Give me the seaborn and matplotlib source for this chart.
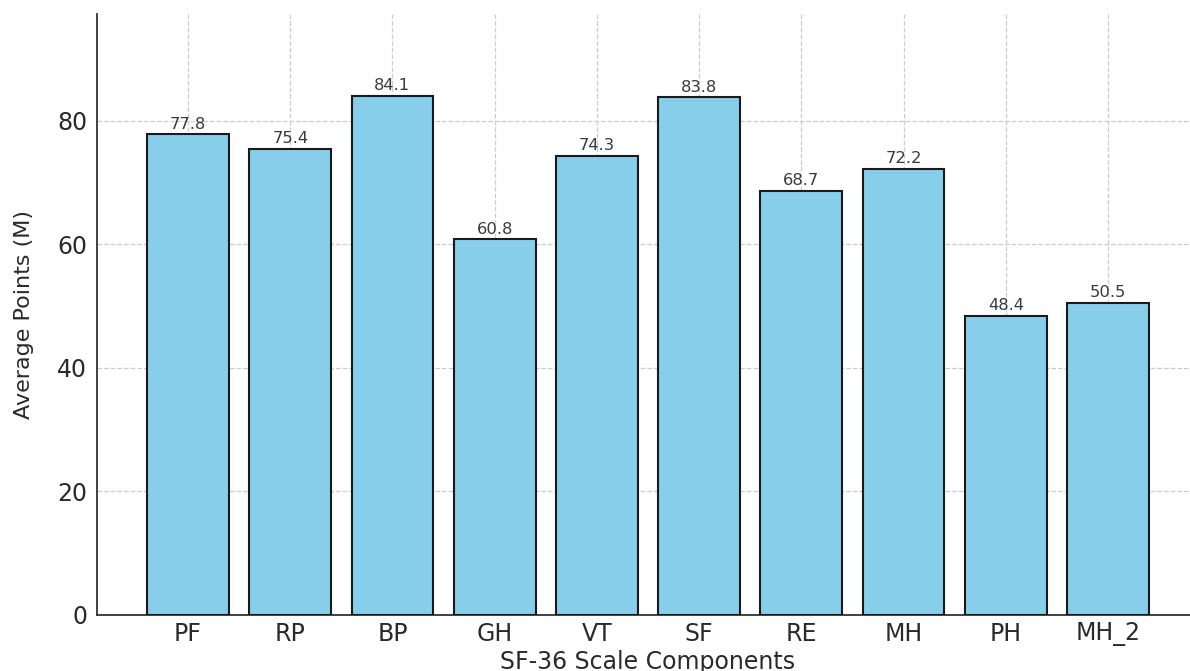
import matplotlib
matplotlib.use("Agg")
import matplotlib.pyplot as plt
import seaborn as sns
import pandas as pd

# SF-36 scale components and their average scores
components = ["PF", "RP", "BP", "GH", "VT", "SF", "RE", "MH", "PH", "MH_2"]
avg_points = [77.8, 75.4, 84.1, 60.8, 74.3, 83.8, 68.7, 72.2, 48.4, 50.5]

df = pd.DataFrame({"component": components, "points": avg_points})

sns.set_style("white")
plt.rcParams["font.family"] = ["DejaVu Sans"]

fig = plt.figure(figsize=(11.9, 6.71), dpi=100)
ax = fig.add_axes([97 / 1190, 1 - 615 / 671, (1199 - 97) / 1190, (615 - 14) / 671])

sns.barplot(data=df, x="component", y="points", color="#87CEEB",
            edgecolor="#1a1a1a", linewidth=1.5, width=0.8, saturation=1,
            ax=ax, zorder=3)

for container in ax.containers:
    ax.bar_label(container, fmt="%.1f", padding=2, fontsize=11.8, color="#3a3a3a")

ax.set_xlim(-0.89, 9.89)
ax.set_ylim(0, 97.3)
ax.set_yticks([0, 20, 40, 60, 80])

ax.grid(True, linestyle="--", color="#cccccc", linewidth=0.9, zorder=0)
ax.set_axisbelow(True)

for side in ("top", "right"):
    ax.spines[side].set_visible(False)
for side in ("left", "bottom"):
    ax.spines[side].set_color("#333333")
    ax.spines[side].set_linewidth(1.3)

ax.tick_params(axis="both", direction="in", length=5, width=1.2,
               colors="#333333", labelsize=17, labelcolor="#2a2a2a")
ax.tick_params(axis="x", pad=5)
ax.tick_params(axis="y", pad=7)

ax.set_xlabel("SF-36 Scale Components", fontsize=17, color="#2a2a2a", labelpad=3)
ax.set_ylabel("Average Points (M)", fontsize=16, color="#2a2a2a", labelpad=17)

fig.savefig("out.png", dpi=100)
